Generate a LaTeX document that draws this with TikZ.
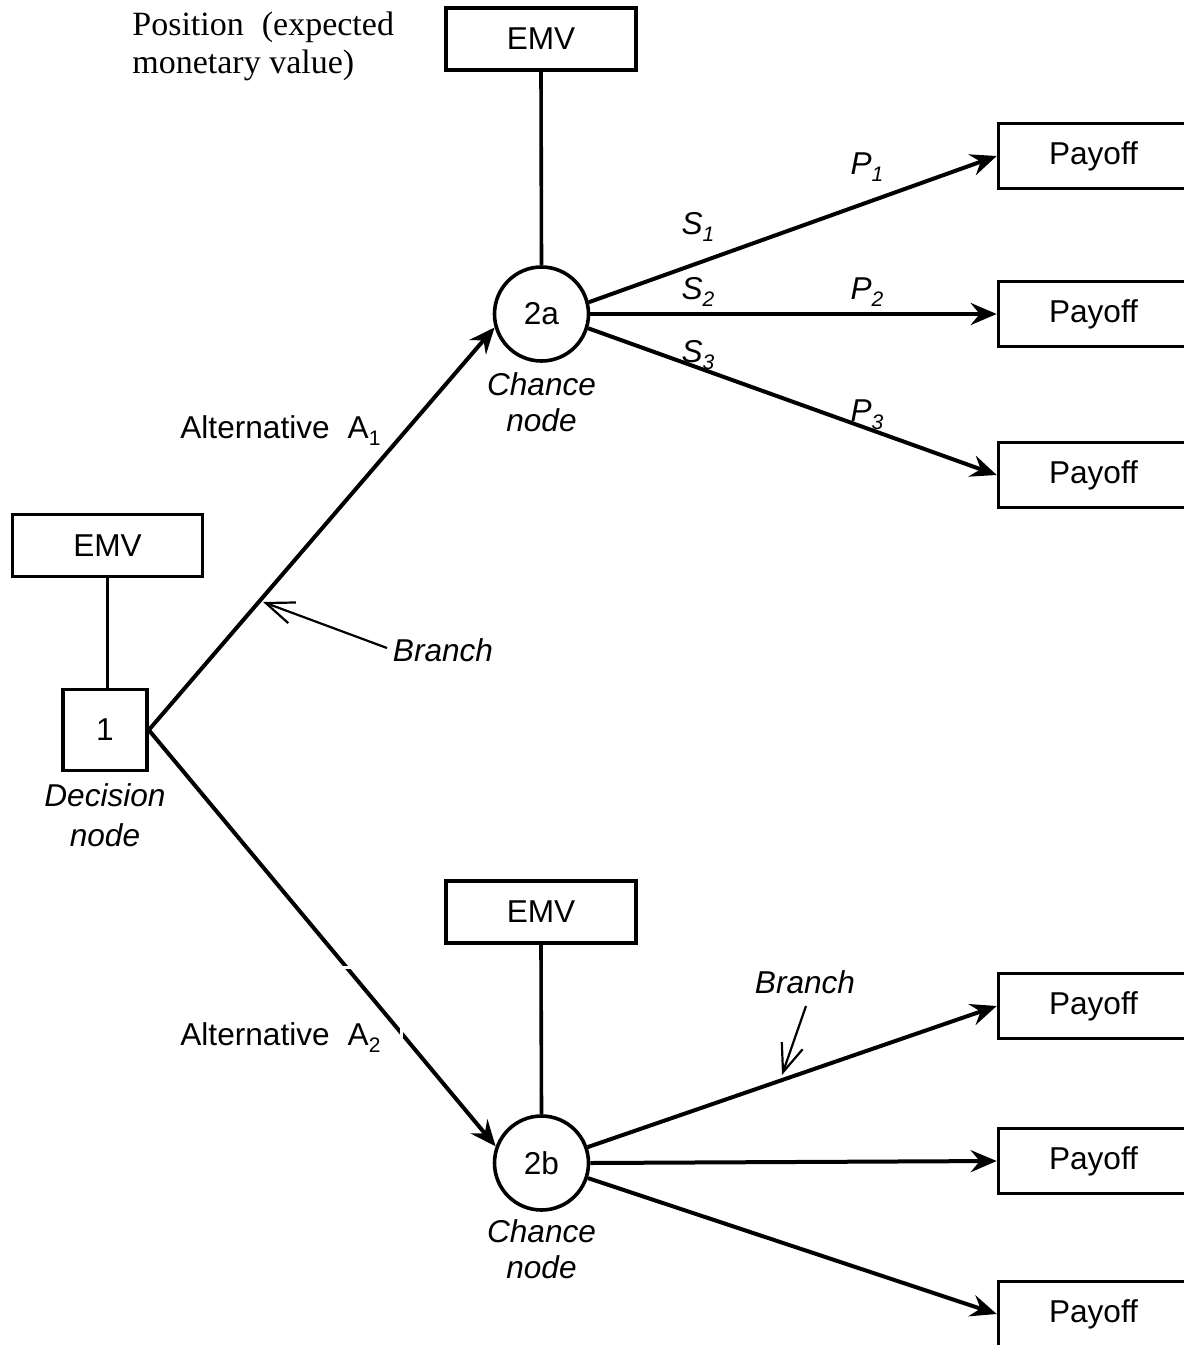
\documentclass[tikz,border=0pt]{standalone}
\usepackage{fontspec}
\setmainfont{Liberation Serif}
\setsansfont{Liberation Sans}
\usetikzlibrary{arrows.meta}
% lowered index in a sans label
\newcommand\lowidx[1]{\raisebox{-0.24em}{\fontsize{10.5}{12}\selectfont #1}}
\begin{document}
\begin{tikzpicture}[x=0.5pt,y=-0.5pt,
  lbl/.style={font=\sffamily\fontsize{15.8}{18}\selectfont, inner sep=0pt},
  box/.style={lbl, draw, line width=1.8pt, minimum width=95pt, minimum height=31pt},
  payoffbox/.style={box, minimum height=32.5pt},
  decbox/.style={box, minimum width=42pt, minimum height=40.5pt},
  chance/.style={lbl, draw, circle, line width=1.8pt, minimum size=47pt},
  note/.style={lbl, font=\sffamily\itshape\fontsize{15.8}{18}\selectfont, align=center},
  branch/.style={line width=2pt, -{Stealth[length=13pt,width=11pt,inset=4.5pt]}},
  stem/.style={line width=1.8pt},
  pointer/.style={line width=1.1pt, -{Straight Barb[length=14pt,width=11pt]}}
]
\useasboundingbox (0,0) rectangle (1184,1345);
\clip (0,0) rectangle (1184,1345);

% nodes
\node[box] (emvA) at (541,39) {EMV};
\node[chance] (c2a) at (541.5,314) {2a};
\node[box] (emvL) at (107.5,545.5) {EMV};
\node[decbox] (d1) at (105,730) {1};
\node[box] (emvB) at (541,912) {EMV};
\node[chance] (c2b) at (541.5,1163) {2b};

\node[payoffbox] (p1) at (1093.5,156) {Payoff};
\node[payoffbox] (p2) at (1093.5,314) {Payoff};
\node[payoffbox] (p3) at (1093.5,475) {Payoff};
\node[payoffbox] (p4) at (1093.5,1006) {Payoff};
\node[payoffbox] (p5) at (1093.5,1161) {Payoff};
\node[payoffbox] (p6) at (1093.5,1314) {Payoff};

% value stems
\draw[stem] (emvA.south) -- (c2a.north);
\draw[stem] (emvL.south) -- (emvL.south |- d1.north);
\draw[stem] (emvB.south) -- (c2b.north);

% alternatives
\draw[branch] (d1.east) -- (c2a.196);
\draw[branch] (d1.east) -- (c2b.160);

% states of nature
\draw[branch] (c2a.14) -- (p1.west);
\draw[branch] (c2a.east) -- (p2.west);
\draw[branch] (c2a.-17) -- (p3.west);
\draw[branch] (c2b.19) -- (p4.west);
\draw[branch] (c2b.east) -- (p5.west);
\draw[branch] (c2b.-18) -- (p6.west);

% label frame breaks on the lower alternative
\draw[white, line width=1.5pt] (175,967) -- (401,967) -- (401,1060);

% texts
\node[inner sep=0pt, anchor=west, align=left, font=\rmfamily\fontsize{17}{19}\selectfont] (pos) at (132,46)
  {Position\hspace{9pt}(expected\\monetary value)};
\node[note] (ch1) at (541.5,402) {Chance\\node};
\node[note] (ch2) at (541.5,1249) {Chance\\node};
\node[note, font=\sffamily\itshape\fontsize{15.8}{20}\selectfont] (dn) at (105,815) {Decision\\node};

\node[lbl, anchor=base west] (alt1) at (180,438) {Alternative\hspace{9pt}A\lowidx{1}};
\node[lbl, anchor=base west] (alt2) at (180,1045) {Alternative\hspace{9pt}A\lowidx{2}};

\node[note] (s1) at (698,227) {S\lowidx{\itshape 1}};
\node[note] (s2) at (698,292) {S\lowidx{\itshape 2}};
\node[note] (s3) at (698,355) {S\lowidx{\itshape 3}};
\node[note] (q1) at (867,167) {P\lowidx{\itshape 1}};
\node[note] (q2) at (867,292) {P\lowidx{\itshape 2}};
\node[note] (q3) at (867,415) {P\lowidx{\itshape 3}};

\node[note] (br1) at (443,650) {Branch};
\node[note] (br2) at (805,982) {Branch};

% pointers to branches
\coordinate (tail1) at (387,648);
\coordinate (tip1) at (263,602);
\coordinate (tail2) at (806,1006);
\coordinate (tip2) at (782,1075);
\draw[pointer] (tail1) -- (tip1);
\draw[pointer] (tail2) -- (tip2);
\end{tikzpicture}
\end{document}
